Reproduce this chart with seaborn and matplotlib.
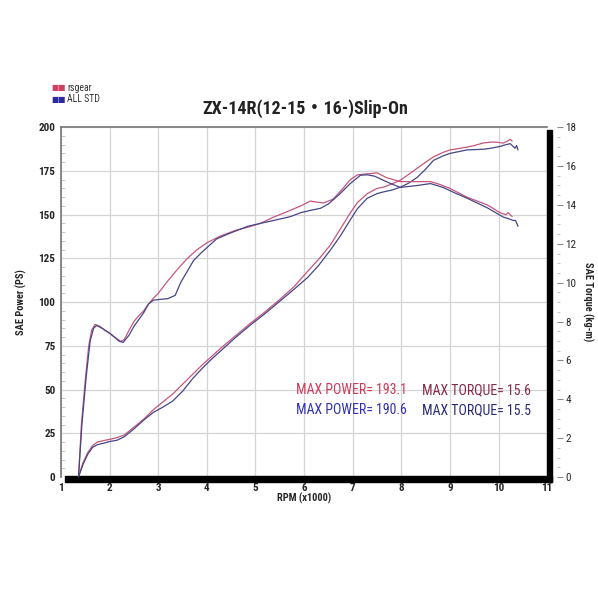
import matplotlib
matplotlib.use("Agg")
import matplotlib.pyplot as plt
import seaborn as sns
import pandas as pd
from matplotlib.patches import Rectangle
from matplotlib.ticker import MultipleLocator

# RPM (x1000) and values
rs_torque_rpm = [1.36, 1.42, 1.5, 1.57, 1.63, 1.70, 1.8, 1.9, 2.0, 2.1, 2.23, 2.3, 2.4, 2.5, 2.6, 2.7,
                 2.8, 2.9, 3.0, 3.2, 3.4, 3.6, 3.8, 4.0, 4.28, 4.6, 4.84, 5.1, 5.37, 5.6, 5.93, 6.13,
                 6.25, 6.4, 6.6, 6.8, 6.95, 7.1, 7.3, 7.5, 7.7, 7.98, 8.19, 8.4, 8.6, 8.8, 9.0, 9.35,
                 9.77, 10.03, 10.15, 10.2, 10.28]
rs_torque = [0, 2.7, 5.0, 6.75, 7.55, 7.85, 7.75, 7.55, 7.4, 7.2, 6.98, 7.07, 7.55, 8.0, 8.3, 8.55,
             8.9, 9.2, 9.45, 10.1, 10.7, 11.25, 11.7, 12.05, 12.4, 12.7, 12.85, 13.05, 13.37, 13.6,
             13.95, 14.2, 14.15, 14.1, 14.3, 14.85, 15.3, 15.55, 15.6, 15.65, 15.4, 15.2, 15.2,
             15.2, 15.2, 15.05, 14.85, 14.4, 14.0, 13.6, 13.5, 13.6, 13.4]

std_torque_rpm = [1.36, 1.43, 1.52, 1.6, 1.67, 1.73, 1.85, 2.0, 2.1, 2.2, 2.28, 2.4, 2.5, 2.6, 2.7,
                  2.8, 2.9, 3.0, 3.2, 3.35, 3.46, 3.6, 3.73, 3.87, 4.0, 4.2, 4.43, 4.84, 5.1, 5.37,
                  5.72, 5.93, 6.13, 6.34, 6.5, 6.75, 6.95, 7.16, 7.3, 7.45, 7.63, 7.8, 7.98, 8.15,
                  8.33, 8.6, 8.86, 9.1, 9.35, 9.77, 10.1, 10.2, 10.3, 10.35, 10.4]
std_torque = [0, 2.7, 5.2, 7.0, 7.65, 7.8, 7.65, 7.4, 7.2, 6.98, 6.93, 7.3, 7.75, 8.1, 8.45, 8.9,
              9.1, 9.13, 9.18, 9.35, 10.0, 10.6, 11.15, 11.5, 11.8, 12.25, 12.5, 12.9, 13.05, 13.2,
              13.4, 13.6, 13.72, 13.83, 14.05, 14.6, 15.1, 15.53, 15.55, 15.48, 15.27, 15.08, 14.9,
              14.95, 15.0, 15.1, 14.9, 14.62, 14.35, 13.85, 13.37, 13.3, 13.2, 13.2, 12.9]

rs_power_rpm = [1.36, 1.45, 1.55, 1.65, 1.75, 1.9, 2.0, 2.15, 2.3, 2.5, 2.7, 2.9, 3.1, 3.3, 3.5, 3.7,
                3.9, 4.1, 4.3, 4.6, 4.9, 5.2, 5.5, 5.8, 6.07, 6.3, 6.54, 6.75, 6.95, 7.1, 7.3, 7.5,
                7.63, 7.8, 7.98, 8.15, 8.33, 8.5, 8.66, 8.85, 9.0, 9.35, 9.5, 9.69, 9.85, 9.97, 10.1,
                10.18, 10.24, 10.28]
rs_power = [0, 8, 14, 18, 20, 21, 21.5, 22.5, 24, 28.5, 33, 38.5, 43, 47.5, 53, 58.5, 64, 69, 74,
            81, 88, 94.5, 101.5, 109, 117.5, 124.5, 132.6, 142, 151, 157, 162, 165, 165.7, 167.5,
            169.7, 173, 176.6, 180, 183, 185.5, 187, 188.6, 189.5, 191, 191.5, 191.4, 190.9, 192,
            193.1, 192]

std_power_rpm = [1.36, 1.45, 1.55, 1.65, 1.75, 1.9, 2.0, 2.15, 2.3, 2.5, 2.7, 2.9, 3.1, 3.3, 3.5,
                 3.7, 3.9, 4.1, 4.3, 4.6, 4.9, 5.2, 5.5, 5.8, 6.07, 6.3, 6.54, 6.75, 6.95, 7.1, 7.3,
                 7.5, 7.63, 7.8, 7.98, 8.15, 8.33, 8.5, 8.66, 8.85, 9.0, 9.35, 9.69, 9.85, 10.03,
                 10.15, 10.24, 10.3, 10.34, 10.37, 10.4]
std_power = [0, 7, 13, 17, 18.5, 19.5, 20.3, 21, 23, 27.5, 32.5, 37, 40, 43.5, 49, 56, 62, 67.5,
             72.5, 80, 87, 93.5, 100.5, 107.5, 114, 121, 129.7, 138, 147, 153.5, 159.4, 162, 163,
             164, 165.7, 168, 171.4, 176, 181, 183.5, 185, 187, 187.4, 188, 189, 190, 190.6, 189,
             188, 189.5, 187]

rs_color = "#c8557c"
std_color = "#45458a"

sns.set_style("white")
plt.rcParams['font.family'] = ['Roboto Condensed', 'Noto Sans CJK JP', 'DejaVu Sans']

fig = plt.figure(figsize=(5.98, 5.98), dpi=100)
ax = fig.add_axes([0.102, 0.2023, 0.813, 0.585])
ax2 = ax.twinx()

df_p = pd.concat([
    pd.DataFrame({"rpm": rs_power_rpm, "val": rs_power, "run": "rsgear"}),
    pd.DataFrame({"rpm": std_power_rpm, "val": std_power, "run": "ALL STD"}),
])
df_t = pd.concat([
    pd.DataFrame({"rpm": rs_torque_rpm, "val": rs_torque, "run": "rsgear"}),
    pd.DataFrame({"rpm": std_torque_rpm, "val": std_torque, "run": "ALL STD"}),
])
pal = {"rsgear": rs_color, "ALL STD": std_color}

sns.lineplot(data=df_p, x="rpm", y="val", hue="run", palette=pal, ax=ax,
             legend=False, linewidth=0.9, sort=False, estimator=None)
sns.lineplot(data=df_t, x="rpm", y="val", hue="run", palette=pal, ax=ax2,
             legend=False, linewidth=0.9, sort=False, estimator=None)

ax.set_xlim(1, 11)
ax.set_ylim(0, 200)
ax2.set_ylim(0, 18)
ax.xaxis.set_major_locator(MultipleLocator(1))
ax.xaxis.set_minor_locator(MultipleLocator(0.2))
ax.yaxis.set_major_locator(MultipleLocator(25))
ax.yaxis.set_minor_locator(MultipleLocator(5))
ax2.yaxis.set_major_locator(MultipleLocator(2))
ax2.yaxis.set_minor_locator(MultipleLocator(0.5))

ax.grid(True, which="major", color="#d4d4d4", linewidth=0.9)
ax.set_axisbelow(True)
ax.tick_params(axis="both", which="major", labelsize=8, length=0, pad=4)
ax.tick_params(axis="both", which="minor", direction="in", length=3, color="#bbbbbb")
ax2.tick_params(axis="y", which="major", labelsize=8, length=4, width=0.8, pad=2, color="#888888")
ax2.tick_params(axis="y", which="minor", length=2, color="#bbbbbb")
for lab in ax.get_xticklabels() + ax.get_yticklabels() + ax2.get_yticklabels():
    lab.set_fontweight("bold")

for sp in ["left", "top"]:
    ax.spines[sp].set_color("#777777")
    ax.spines[sp].set_linewidth(1.2)
ax.spines["right"].set_visible(False)
ax.spines["bottom"].set_visible(False)
ax2.spines["right"].set_position(("outward", 7))
ax2.spines["right"].set_visible(False)
for sp in ["left", "top", "bottom"]:
    ax2.spines[sp].set_visible(False)

# black drop-shadow frame on bottom and right
ax.add_patch(Rectangle((0.008, -0.014), 1.002, 0.017, transform=ax.transAxes,
                       color="black", clip_on=False, zorder=5))
ax.add_patch(Rectangle((0.999, -0.014), 0.011, 1.005, transform=ax.transAxes,
                       color="black", clip_on=False, zorder=5))

ax.set_xlabel("RPM (x1000)", fontsize=7.5, fontweight="bold", labelpad=0)
ax.set_ylabel("SAE Power (PS)", fontsize=7.5, fontweight="bold", labelpad=8)
ax2.set_ylabel("SAE Torque (kg-m)", fontsize=7.5, fontweight="bold", rotation=270, labelpad=12)

fig.text(0.51, 0.818, "ZX-14R(12-15・16-)Slip-On", ha="center", va="center",
         fontsize=13, fontweight="bold", color="#222222")

# legend squares
fig.text(0.085, 0.853, "\u25a0\u25a0", fontsize=5.5, color="#d04060", va="center", ha="left",
         family="DejaVu Sans")
fig.text(0.112, 0.853, "rsgear", fontsize=7, color="#333333", va="center", ha="left")
fig.text(0.085, 0.834, "\u25a0\u25a0", fontsize=5.5, color="#2a2aa0", va="center", ha="left",
         family="DejaVu Sans")
fig.text(0.112, 0.834, "ALL STD", fontsize=7, color="#333333", va="center", ha="left")

ax.text(5.83, 49.7, "MAX POWER= 193.1", color="#d03a5a", fontsize=10, va="center")
ax.text(8.43, 49.7, "MAX TORQUE= 15.6", color="#8a2a4a", fontsize=10, va="center")
ax.text(5.83, 38.3, "MAX POWER= 190.6", color="#3030b8", fontsize=10, va="center")
ax.text(8.43, 38.3, "MAX TORQUE= 15.5", color="#2a2a78", fontsize=10, va="center")

fig.savefig("out.png", dpi=100, facecolor="white")
